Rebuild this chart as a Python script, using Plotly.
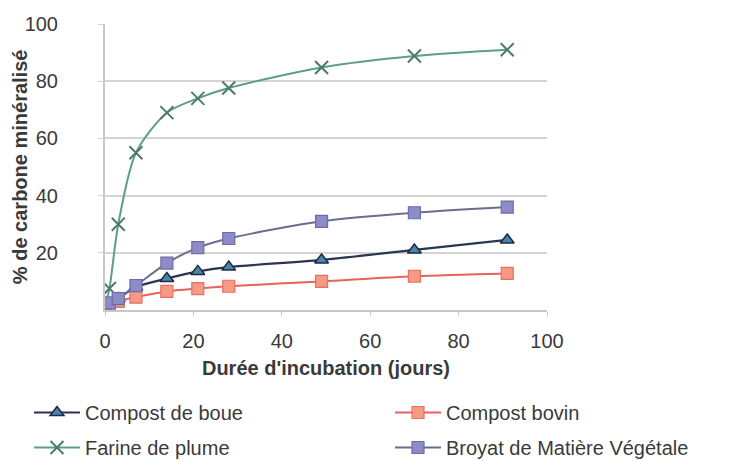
import plotly.graph_objects as go

days = [0, 1, 3, 7, 14, 21, 28, 49, 70, 91]
compost_boue = [1, 2, 4, 8, 11, 13.5, 15, 17.5, 21, 24.5]
compost_bovin = [0.5, 1.5, 3, 4.5, 6.5, 7.5, 8.3, 10, 11.8, 12.8]
farine_plume = [1, 7.5, 30, 55, 69, 74, 77.6, 84.8, 88.8, 91]
broyat = [0.8, 2.5, 4, 8.5, 16.4, 21.8, 25, 31, 34, 36]

names = ["Compost de boue", "Compost bovin", "Farine de plume", "Broyat de Matière Végétale"]
series = [compost_boue, compost_bovin, farine_plume, broyat]
legend_ids = ["legend", "legend2", "legend", "legend2"]

styles = [
    dict(line=dict(color="#2a3550", width=2.2),
         marker=dict(symbol="triangle-up", size=12, color="#4a84a6", line=dict(color="#1e2a45", width=1.5))),
    dict(line=dict(color="#e8625a", width=2),
         marker=dict(symbol="square", size=12, color="#f59a84", line=dict(color="#e87060", width=1.2))),
    dict(line=dict(color="#5f9e86", width=2),
         marker=dict(symbol="x-thin-open", size=13, color="#4e7a6c", line=dict(color="#4e7a6c", width=2))),
    dict(line=dict(color="#6c6c8e", width=2),
         marker=dict(symbol="square", size=12, color="#8e8cc6", line=dict(color="#6d6ca6", width=1.2))),
]

fig = go.Figure()
for name, vals, st, lg in zip(names, series, styles, legend_ids):
    fig.add_trace(go.Scatter(x=days, y=vals, name=name, mode="lines+markers",
                             legend=lg, legendgroup=name,
                             line=dict(shape="spline", smoothing=0.8, **st["line"]),
                             marker=st["marker"]))

font_color = "#3a3a3a"
leg_common = dict(orientation="v", xref="container", yref="container",
                  xanchor="left", yanchor="top", tracegroupgap=6,
                  itemwidth=46, font=dict(size=20, color=font_color),
                  bgcolor="rgba(0,0,0,0)")
fig.update_layout(
    width=741, height=461,
    margin=dict(l=105, r=194, t=24, b=151, autoexpand=False),
    paper_bgcolor="white", plot_bgcolor="white",
    font=dict(family="Liberation Sans, Arial, sans-serif", size=20, color=font_color),
    showlegend=True,
    legend=dict(x=29 / 741, y=1 - 393 / 461, **leg_common),
    legend2=dict(x=390 / 741, y=1 - 393 / 461, **leg_common),
    xaxis=dict(range=[0, 100], tickvals=[0, 20, 40, 60, 80, 100],
               showgrid=False, showline=True, linecolor="#c8c8c8", linewidth=2,
               ticks="outside", ticklen=4, tickcolor="#c8c8c8", zeroline=False,
               ticklabelstandoff=8,
               title=dict(text="<b>Durée d'incubation (jours)</b>", font=dict(size=20, color=font_color), standoff=10),
               tickfont=dict(size=20, color=font_color)),
    yaxis=dict(range=[0, 100], tickvals=[20, 40, 60, 80, 100],
               showgrid=True, gridcolor="#d4d4d4", gridwidth=2,
               showline=True, linecolor="#c8c8c8", linewidth=2, zeroline=False,
               ticks="outside", ticklen=5, tickcolor="#d4d4d4",
               ticklabelstandoff=36,
               tickfont=dict(size=20, color=font_color)),
    annotations=[dict(text="<b>% de carbone minéralisé</b>", xref="paper", yref="paper",
                      x=-0.192, y=0.5, textangle=-90, showarrow=False,
                      xanchor="center", yanchor="middle",
                      font=dict(size=20, color=font_color))],
)

fig.write_html("out.html")
